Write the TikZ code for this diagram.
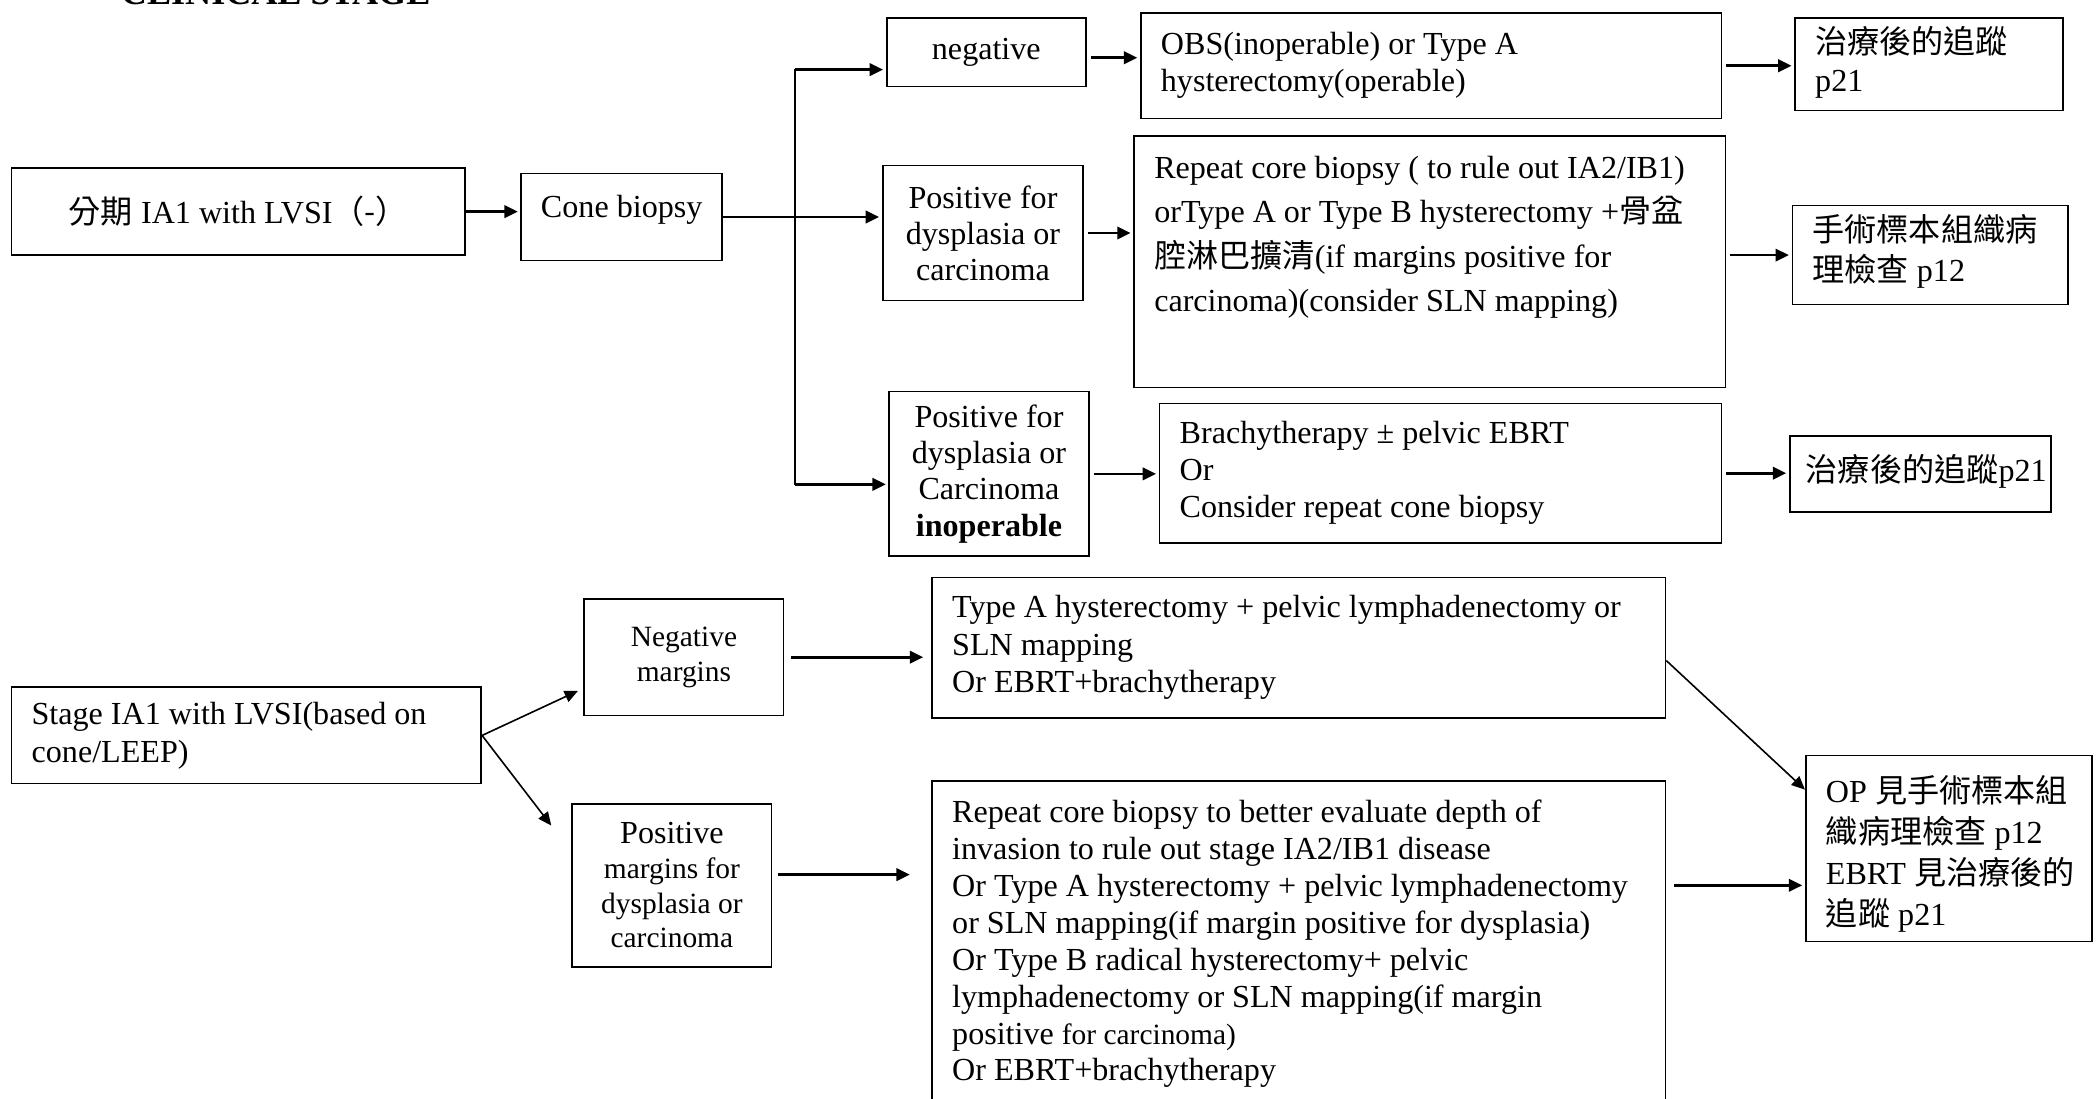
\documentclass[tikz,border=0pt]{standalone}
\usepackage{fontspec}
\setmainfont{Liberation Serif}
\newfontfamily\cjk{Noto Sans CJK TC}
\usetikzlibrary{arrows.meta}

\newcommand{\zh}[1]{{\cjk #1}}

\begin{document}
\begin{tikzpicture}[x=0.5pt, y=-0.5pt,
	font=\fontsize{12}{14}\selectfont,
	box/.style={draw, line width=0.65pt, anchor=north west, inner sep=0pt},
	mid/.style={box, align=center},
	topl/.style={box, align=flush left, inner xsep=0pt, execute at begin node={\leftskip=#1\rightskip=0pt plus 1fil\relax}},
	topl/.default=7.5pt,
	arr/.style={-{Triangle[length=5pt, width=4.6pt]}, line width=1pt, shorten >=1pt},
	gap/.style={shorten <=1.5pt},
	thin arr/.style={-{Triangle[length=5pt, width=4.4pt]}, line width=0.6pt}]
	\useasboundingbox (0,0) rectangle (1568,821);
	\clip (0,0) rectangle (1568,821);

	\node[anchor=base west, inner sep=0pt, font=\fontsize{13.5}{16}\selectfont\bfseries] (title) at (90,3) {CLINICAL STAGE};

	\node[mid, minimum width=169.5pt, minimum height=32.5pt] (intro) at (8,125) {\zh{分期} IA1 with LVSI\zh{（-）}};
	\node[mid, minimum width=75pt, minimum height=32.5pt, text depth=8pt] (cone) at (389,129) {Cone biopsy};
	\node[mid, minimum width=74.5pt, minimum height=25.5pt] (neg) at (662,13) {negative};
	\node[mid, minimum width=75pt, minimum height=50.5pt, font=\fontsize{12}{13.5}\selectfont] (pos) at (659,123) {Positive for\\dysplasia or\\carcinoma};
	\node[mid, minimum width=74.5pt, minimum height=61.5pt, font=\fontsize{12}{13.6}\selectfont] (inop) at (664,292) {Positive for\\dysplasia or\\Carcinoma\\\textbf{inoperable}};

	\node[topl, text width=217pt, text height=15.5pt, text depth=24pt] (obs) at (852,9) {OBS(inoperable) or Type A\\hysterectomy(operable)};
	\node[topl, text width=100pt, text height=13pt, text depth=21.5pt, font=\fontsize{12}{14.5}\selectfont] (fu1) at (1341,13) {\zh{治療後的追蹤}\\p21};
	\node[topl, text width=221pt, text height=16pt, text depth=78pt, font=\fontsize{12}{16.5}\selectfont] (big) at (847,101) {Repeat core biopsy ( to rule out IA2/IB1)\\orType A or Type B hysterectomy +\zh{骨盆}\\\zh{腔淋巴擴清}(if margins positive for\\carcinoma)(consider SLN mapping)};
	\node[topl, text width=103pt, text height=13.5pt, text depth=23.5pt, font=\fontsize{12}{15}\selectfont] (surg) at (1339,153) {\zh{手術標本組織病}\\\zh{理檢查} p12};
	\node[topl, text width=210pt, text height=15pt, text depth=37pt, font=\fontsize{12}{13.75}\selectfont] (brachy) at (866,301) {Brachytherapy ± pelvic EBRT\\Or\\Consider repeat cone biopsy};
	\node[topl=6pt, text width=97.5pt, text height=17pt, text depth=11.5pt] (fu2) at (1337,325) {\zh{治療後的追蹤}p21};

	\node[topl, text width=175.5pt, text height=14pt, text depth=22pt] (stage) at (8,513) {Stage IA1 with LVSI(based on\\cone/LEEP)};
	\node[mid, minimum width=74.5pt, minimum height=43.5pt, font=\fontsize{11}{13}\selectfont] (negm) at (436,447) {Negative\\margins};
	\node[mid, minimum width=74.5pt, minimum height=61pt, font=\fontsize{11}{13}\selectfont] (posm) at (427,600) {{\fontsize{12}{13}\selectfont Positive}\\margins for\\dysplasia or\\carcinoma};
	\node[topl, text width=274pt, text height=15pt, text depth=37.5pt] (typeA) at (696,431) {Type A hysterectomy + pelvic lymphadenectomy or\\SLN mapping\\Or EBRT+brachytherapy};
	\node[topl, text width=274pt, text height=15.5pt, text depth=114.5pt, font=\fontsize{12}{13.8}\selectfont] (rep) at (696,583) {Repeat core biopsy to better evaluate depth of\\invasion to rule out stage IA2/IB1 disease\\Or Type A hysterectomy + pelvic lymphadenectomy\\or SLN mapping(if margin positive for dysplasia)\\Or Type B radical hysterectomy+ pelvic\\lymphadenectomy or SLN mapping(if margin\\positive {\fontsize{11}{13.8}\selectfont for carcinoma)}\\Or EBRT+brachytherapy};
	\node[topl, text width=107pt, text height=17.5pt, text depth=52pt, font=\fontsize{12}{15.3}\selectfont] (op) at (1349,564) {OP \zh{見手術標本組}\\\zh{織病理檢查} p12\\EBRT \zh{見治療後的}\\\zh{追蹤} p21};

	\coordinate (bus top) at (594,52);
	\coordinate (bus bot) at (594,362);
	\draw[line width=0.8pt, line cap=rect] (bus top) -- (bus bot);

	\path (intro.east) edge[arr] (intro.east -| cone.west);
	\path (cone.east) edge[arr] (cone.east -| pos.west);
	\path (bus top) edge[arr] (bus top -| neg.west);
	\path (bus bot) edge[arr] (bus bot -| inop.west);
	\path ([yshift=-2pt]neg.east) edge[arr, gap] ([yshift=-2pt]neg.east -| obs.west);
	\path (obs.east) edge[arr, gap] (obs.east -| fu1.west);
	\path (pos.east) edge[arr, gap] (pos.east -| big.west);
	\path (big.east |- surg.west) edge[arr, gap] (surg.west);
	\path (inop.east) edge[arr, gap] (inop.east -| brachy.west);
	\path (brachy.east) edge[arr, gap] (brachy.east -| fu2.west);

	\path (stage.east) edge[thin arr] ([shift={(-2pt,9.5pt)}]negm.south west);
	\path (stage.east) edge[thin arr] ([shift={(-7.5pt,-8.5pt)}]posm.north west);
	\path (negm.east) edge[arr, shorten <=2.5pt, shorten >=3pt] (negm.east -| typeA.west);
	\path ([yshift=4pt]posm.east) edge[arr, shorten <=2pt, shorten >=8pt] ([yshift=4pt]posm.east -| rep.west);
	\path ([yshift=-4.75pt]typeA.east) edge[thin arr] ([yshift=22pt]op.west);
	\coordinate (op in) at ([yshift=-13.75pt]op.west);
	\path (rep.east |- op in) edge[arr, shorten <=3pt] (op in);
\end{tikzpicture}
\end{document}
